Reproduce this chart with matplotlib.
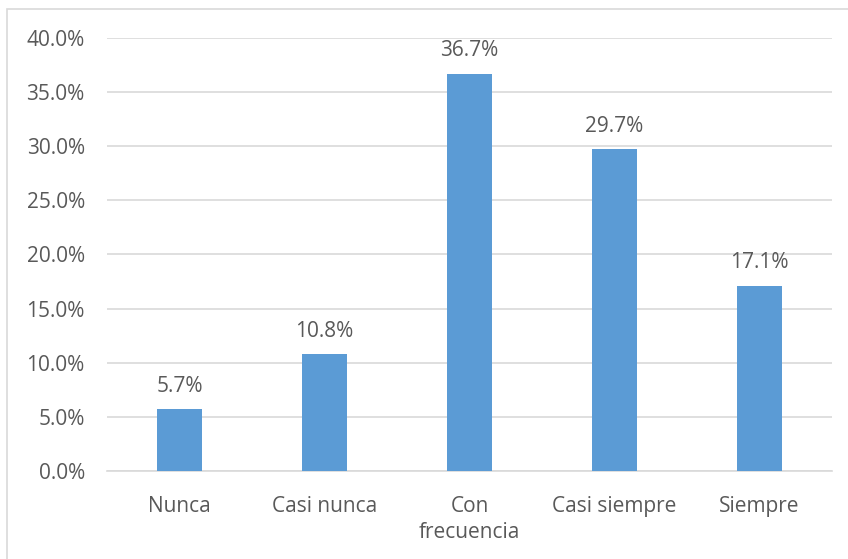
import matplotlib.pyplot as plt
from matplotlib.patches import Rectangle

categories = ['Nunca', 'Casi nunca', 'Con\nfrecuencia', 'Casi siempre', 'Siempre']
values = [5.7, 10.8, 36.7, 29.7, 17.1]
yticks = [0, 5, 10, 15, 20, 25, 30, 35, 40]

plt.rcParams['font.family'] = ['Open Sans', 'DejaVu Sans']
text_color = '#595959'
fs = 15

fig = plt.figure(figsize=(8.48, 5.59), dpi=100)
ax = fig.add_axes([107 / 848, 1 - 471 / 559, 725 / 848, 433 / 559])

x = range(len(categories))
bars = ax.bar(x, values, width=0.31, color='#5B9BD5', zorder=3)
for b, v in zip(bars, values):
    ax.annotate(f'{v:.1f}%', (b.get_x() + b.get_width() / 2, v),
                xytext=(0, 9), textcoords='offset points',
                ha='center', va='bottom', fontsize=fs, color=text_color)

ax.set_xlim(-0.5, len(categories) - 0.5)
ax.set_ylim(0, 40)
ax.set_yticks(yticks)
ax.set_yticklabels([f'{t:.1f}%' for t in yticks])
ax.set_xticks(list(x))
ax.set_xticklabels(categories, linespacing=1.3)
ax.tick_params(axis='both', length=0, labelsize=fs, labelcolor=text_color)
ax.tick_params(axis='y', pad=16)
ax.tick_params(axis='x', pad=18)
ax.grid(axis='y', color='#D9D9D9', linewidth=1.2, zorder=0)
for s in ['top', 'right', 'left']:
    ax.spines[s].set_visible(False)
ax.spines['bottom'].set_color('#D9D9D9')
ax.spines['bottom'].set_linewidth(1.2)

# outer chart frame (only left/top edges visible in the crop)
fig.add_artist(Rectangle((7 / 848, -0.1), 1.2, 1.1 - 9 / 559, transform=fig.transFigure,
                         fill=False, edgecolor='#D9D9D9', linewidth=1.2))

fig.savefig('out.png', dpi=100)
